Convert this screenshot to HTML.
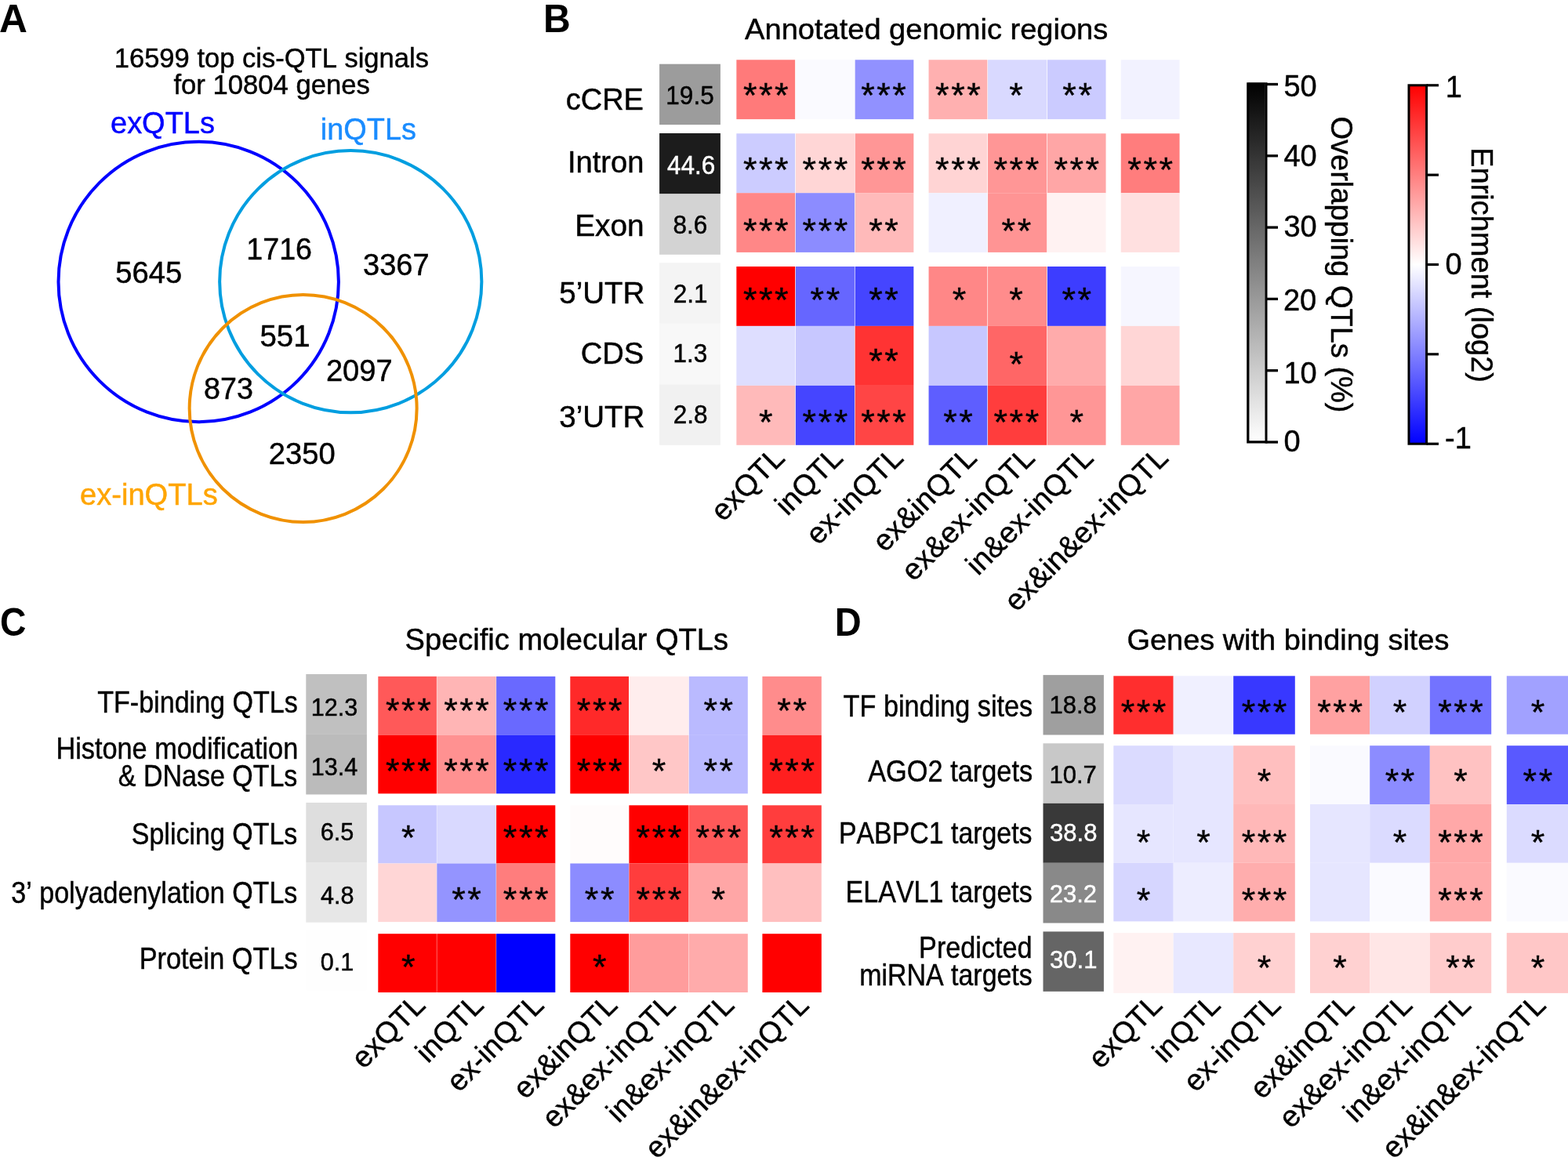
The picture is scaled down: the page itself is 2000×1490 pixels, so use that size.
<!DOCTYPE html>
<html><head><meta charset="utf-8"><title>QTL figure</title>
<style>html,body{margin:0;padding:0;background:#fff;overflow:hidden}svg{display:block}</style></head>
<body><svg width="2000" height="1490" viewBox="0 0 2000 1490" font-family="'Liberation Sans', Arial, sans-serif" style="font-kerning:none">
<rect width="2000" height="1490" fill="#fff"/>
<circle cx="253.2" cy="359.5" r="178.7" fill="none" stroke="#0000ff" stroke-width="4"/>
<circle cx="447.25" cy="359.2" r="167.1" fill="none" stroke="#009ee0" stroke-width="4"/>
<circle cx="386.65" cy="521" r="145" fill="none" stroke="#f09100" stroke-width="4"/>
<rect x="841.10" y="81.70" width="77.80" height="77.40" fill="rgb(156,156,156)"/>
<rect x="841.10" y="170.00" width="77.80" height="77.40" fill="rgb(28,28,28)"/>
<rect x="841.10" y="247.40" width="77.80" height="77.40" fill="rgb(211,211,211)"/>
<rect x="841.10" y="335.30" width="77.80" height="77.50" fill="rgb(244,244,244)"/>
<rect x="841.10" y="412.80" width="77.80" height="77.50" fill="rgb(248,248,248)"/>
<rect x="841.10" y="490.30" width="77.80" height="77.50" fill="rgb(241,241,241)"/>
<rect x="939.35" y="76.30" width="74.80" height="75.80" fill="rgb(255,122,122)"/>
<rect x="1014.85" y="76.30" width="75.10" height="75.80" fill="rgb(250,250,255)"/>
<rect x="1090.65" y="76.30" width="74.70" height="75.80" fill="rgb(145,145,255)"/>
<rect x="1184.55" y="76.30" width="74.80" height="75.80" fill="rgb(255,176,176)"/>
<rect x="1260.05" y="76.30" width="75.20" height="75.80" fill="rgb(217,217,255)"/>
<rect x="1335.95" y="76.30" width="74.60" height="75.80" fill="rgb(203,203,255)"/>
<rect x="1429.75" y="76.30" width="74.80" height="75.80" fill="rgb(242,242,255)"/>
<rect x="939.35" y="170.30" width="74.80" height="75.90" fill="rgb(204,204,255)"/>
<rect x="1014.85" y="170.30" width="75.10" height="75.90" fill="rgb(255,214,214)"/>
<rect x="1090.65" y="170.30" width="74.70" height="75.90" fill="rgb(255,150,150)"/>
<rect x="1184.55" y="170.30" width="74.80" height="75.90" fill="rgb(255,212,212)"/>
<rect x="1260.05" y="170.30" width="75.20" height="75.90" fill="rgb(255,150,150)"/>
<rect x="1335.95" y="170.30" width="74.60" height="75.90" fill="rgb(255,166,166)"/>
<rect x="1429.75" y="170.30" width="74.80" height="75.90" fill="rgb(255,125,125)"/>
<rect x="939.35" y="246.20" width="74.80" height="75.70" fill="rgb(255,135,135)"/>
<rect x="1014.85" y="246.20" width="75.10" height="75.70" fill="rgb(140,140,255)"/>
<rect x="1090.65" y="246.20" width="74.70" height="75.70" fill="rgb(255,186,186)"/>
<rect x="1184.55" y="246.20" width="74.80" height="75.70" fill="rgb(240,240,255)"/>
<rect x="1260.05" y="246.20" width="75.20" height="75.70" fill="rgb(255,148,148)"/>
<rect x="1335.95" y="246.20" width="74.60" height="75.70" fill="rgb(255,242,242)"/>
<rect x="1429.75" y="246.20" width="74.80" height="75.70" fill="rgb(255,224,224)"/>
<rect x="939.35" y="340.00" width="74.80" height="75.90" fill="rgb(255,0,0)"/>
<rect x="1014.85" y="340.00" width="75.10" height="75.90" fill="rgb(102,102,255)"/>
<rect x="1090.65" y="340.00" width="74.70" height="75.90" fill="rgb(69,69,255)"/>
<rect x="1184.55" y="340.00" width="74.80" height="75.90" fill="rgb(255,135,135)"/>
<rect x="1260.05" y="340.00" width="75.20" height="75.90" fill="rgb(255,140,140)"/>
<rect x="1335.95" y="340.00" width="74.60" height="75.90" fill="rgb(61,61,255)"/>
<rect x="1429.75" y="340.00" width="74.80" height="75.90" fill="rgb(246,246,255)"/>
<rect x="939.35" y="415.90" width="74.80" height="76.00" fill="rgb(222,222,255)"/>
<rect x="1014.85" y="415.90" width="75.10" height="76.00" fill="rgb(199,199,255)"/>
<rect x="1090.65" y="415.90" width="74.70" height="76.00" fill="rgb(255,51,51)"/>
<rect x="1184.55" y="415.90" width="74.80" height="76.00" fill="rgb(199,199,255)"/>
<rect x="1260.05" y="415.90" width="75.20" height="76.00" fill="rgb(255,102,102)"/>
<rect x="1335.95" y="415.90" width="74.60" height="76.00" fill="rgb(255,171,171)"/>
<rect x="1429.75" y="415.90" width="74.80" height="76.00" fill="rgb(255,214,214)"/>
<rect x="939.35" y="491.90" width="74.80" height="75.90" fill="rgb(255,186,186)"/>
<rect x="1014.85" y="491.90" width="75.10" height="75.90" fill="rgb(69,69,255)"/>
<rect x="1090.65" y="491.90" width="74.70" height="75.90" fill="rgb(255,69,69)"/>
<rect x="1184.55" y="491.90" width="74.80" height="75.90" fill="rgb(94,94,255)"/>
<rect x="1260.05" y="491.90" width="75.20" height="75.90" fill="rgb(255,61,61)"/>
<rect x="1335.95" y="491.90" width="74.60" height="75.90" fill="rgb(255,150,150)"/>
<rect x="1429.75" y="491.90" width="74.80" height="75.90" fill="rgb(255,166,166)"/>
<text x="947.89" y="136.86" font-size="45" stroke="#000" stroke-width="0.4" style="letter-spacing:2.6px">***</text>
<text x="1098.14" y="136.86" font-size="45" stroke="#000" stroke-width="0.4" style="letter-spacing:2.6px">***</text>
<text x="1193.09" y="136.86" font-size="45" stroke="#000" stroke-width="0.4" style="letter-spacing:2.6px">***</text>
<text x="1287.30" y="136.86" font-size="45" stroke="#000" stroke-width="0.4" style="letter-spacing:2.6px">*</text>
<text x="1355.35" y="136.86" font-size="45" stroke="#000" stroke-width="0.4" style="letter-spacing:2.6px">**</text>
<text x="947.89" y="232.06" font-size="45" stroke="#000" stroke-width="0.4" style="letter-spacing:2.6px">***</text>
<text x="1023.54" y="232.06" font-size="45" stroke="#000" stroke-width="0.4" style="letter-spacing:2.6px">***</text>
<text x="1098.14" y="232.06" font-size="45" stroke="#000" stroke-width="0.4" style="letter-spacing:2.6px">***</text>
<text x="1193.09" y="232.06" font-size="45" stroke="#000" stroke-width="0.4" style="letter-spacing:2.6px">***</text>
<text x="1267.49" y="232.06" font-size="45" stroke="#000" stroke-width="0.4" style="letter-spacing:2.6px">***</text>
<text x="1344.39" y="232.06" font-size="45" stroke="#000" stroke-width="0.4" style="letter-spacing:2.6px">***</text>
<text x="1438.29" y="232.06" font-size="45" stroke="#000" stroke-width="0.4" style="letter-spacing:2.6px">***</text>
<text x="947.89" y="310.06" font-size="45" stroke="#000" stroke-width="0.4" style="letter-spacing:2.6px">***</text>
<text x="1023.54" y="310.06" font-size="45" stroke="#000" stroke-width="0.4" style="letter-spacing:2.6px">***</text>
<text x="1108.19" y="310.06" font-size="45" stroke="#000" stroke-width="0.4" style="letter-spacing:2.6px">**</text>
<text x="1277.54" y="310.06" font-size="45" stroke="#000" stroke-width="0.4" style="letter-spacing:2.6px">**</text>
<text x="947.89" y="398.16" font-size="45" stroke="#000" stroke-width="0.4" style="letter-spacing:2.6px">***</text>
<text x="1033.60" y="398.16" font-size="45" stroke="#000" stroke-width="0.4" style="letter-spacing:2.6px">**</text>
<text x="1108.19" y="398.16" font-size="45" stroke="#000" stroke-width="0.4" style="letter-spacing:2.6px">**</text>
<text x="1214.70" y="398.16" font-size="45" stroke="#000" stroke-width="0.4" style="letter-spacing:2.6px">*</text>
<text x="1287.20" y="398.16" font-size="45" stroke="#000" stroke-width="0.4" style="letter-spacing:2.6px">*</text>
<text x="1354.44" y="398.16" font-size="45" stroke="#000" stroke-width="0.4" style="letter-spacing:2.6px">**</text>
<text x="1108.19" y="475.96" font-size="45" stroke="#000" stroke-width="0.4" style="letter-spacing:2.6px">**</text>
<text x="1287.50" y="480.16" font-size="45" stroke="#000" stroke-width="0.4" style="letter-spacing:2.6px">*</text>
<text x="968.00" y="554.06" font-size="45" stroke="#000" stroke-width="0.4" style="letter-spacing:2.6px">*</text>
<text x="1023.54" y="554.06" font-size="45" stroke="#000" stroke-width="0.4" style="letter-spacing:2.6px">***</text>
<text x="1098.14" y="554.06" font-size="45" stroke="#000" stroke-width="0.4" style="letter-spacing:2.6px">***</text>
<text x="1203.14" y="554.06" font-size="45" stroke="#000" stroke-width="0.4" style="letter-spacing:2.6px">**</text>
<text x="1267.49" y="554.06" font-size="45" stroke="#000" stroke-width="0.4" style="letter-spacing:2.6px">***</text>
<text x="1364.50" y="554.06" font-size="45" stroke="#000" stroke-width="0.4" style="letter-spacing:2.6px">*</text>
<rect x="390.30" y="860.00" width="77.60" height="76.90" fill="rgb(192,192,192)"/>
<rect x="390.30" y="936.90" width="77.60" height="76.60" fill="rgb(187,187,187)"/>
<rect x="390.30" y="1023.90" width="77.60" height="76.10" fill="rgb(222,222,222)"/>
<rect x="390.30" y="1100.00" width="77.60" height="76.70" fill="rgb(231,231,231)"/>
<rect x="390.30" y="1187.00" width="77.60" height="76.50" fill="rgb(254,254,254)"/>
<rect x="482.30" y="862.90" width="74.60" height="75.00" fill="rgb(255,89,89)"/>
<rect x="557.30" y="862.90" width="75.40" height="75.00" fill="rgb(255,181,181)"/>
<rect x="633.10" y="862.90" width="75.20" height="75.00" fill="rgb(105,105,255)"/>
<rect x="727.30" y="862.90" width="74.70" height="75.00" fill="rgb(255,41,41)"/>
<rect x="802.40" y="862.90" width="76.00" height="75.00" fill="rgb(255,237,237)"/>
<rect x="878.80" y="862.90" width="75.00" height="75.00" fill="rgb(186,186,255)"/>
<rect x="972.40" y="862.90" width="75.40" height="75.00" fill="rgb(255,140,140)"/>
<rect x="482.30" y="937.90" width="74.60" height="74.50" fill="rgb(255,0,0)"/>
<rect x="557.30" y="937.90" width="75.40" height="74.50" fill="rgb(255,145,145)"/>
<rect x="633.10" y="937.90" width="75.20" height="74.50" fill="rgb(41,41,255)"/>
<rect x="727.30" y="937.90" width="74.70" height="74.50" fill="rgb(255,0,0)"/>
<rect x="802.40" y="937.90" width="76.00" height="74.50" fill="rgb(255,199,199)"/>
<rect x="878.80" y="937.90" width="75.00" height="74.50" fill="rgb(186,186,255)"/>
<rect x="972.40" y="937.90" width="75.40" height="74.50" fill="rgb(255,31,31)"/>
<rect x="482.30" y="1027.30" width="74.60" height="74.20" fill="rgb(199,199,255)"/>
<rect x="557.30" y="1027.30" width="75.40" height="74.20" fill="rgb(217,217,255)"/>
<rect x="633.10" y="1027.30" width="75.20" height="74.20" fill="rgb(255,0,0)"/>
<rect x="727.30" y="1027.30" width="74.70" height="74.20" fill="rgb(255,252,252)"/>
<rect x="802.40" y="1027.30" width="76.00" height="74.20" fill="rgb(255,0,0)"/>
<rect x="878.80" y="1027.30" width="75.00" height="74.20" fill="rgb(255,89,89)"/>
<rect x="972.40" y="1027.30" width="75.40" height="74.20" fill="rgb(255,61,61)"/>
<rect x="482.30" y="1101.50" width="74.60" height="74.60" fill="rgb(255,214,214)"/>
<rect x="557.30" y="1101.50" width="75.40" height="74.60" fill="rgb(148,148,255)"/>
<rect x="633.10" y="1101.50" width="75.20" height="74.60" fill="rgb(255,125,125)"/>
<rect x="727.30" y="1101.50" width="74.70" height="74.60" fill="rgb(140,140,255)"/>
<rect x="802.40" y="1101.50" width="76.00" height="74.60" fill="rgb(255,61,61)"/>
<rect x="878.80" y="1101.50" width="75.00" height="74.60" fill="rgb(255,166,166)"/>
<rect x="972.40" y="1101.50" width="75.40" height="74.60" fill="rgb(255,191,191)"/>
<rect x="482.30" y="1191.20" width="74.60" height="74.80" fill="rgb(255,0,0)"/>
<rect x="557.30" y="1191.20" width="75.40" height="74.80" fill="rgb(255,0,0)"/>
<rect x="633.10" y="1191.20" width="75.20" height="74.80" fill="rgb(0,0,255)"/>
<rect x="727.30" y="1191.20" width="74.70" height="74.80" fill="rgb(255,0,0)"/>
<rect x="802.40" y="1191.20" width="76.00" height="74.80" fill="rgb(255,156,156)"/>
<rect x="878.80" y="1191.20" width="75.00" height="74.80" fill="rgb(255,171,171)"/>
<rect x="972.40" y="1191.20" width="75.40" height="74.80" fill="rgb(255,0,0)"/>
<text x="491.94" y="921.96" font-size="45" stroke="#000" stroke-width="0.4" style="letter-spacing:2.6px">***</text>
<text x="566.14" y="921.96" font-size="45" stroke="#000" stroke-width="0.4" style="letter-spacing:2.6px">***</text>
<text x="641.84" y="921.96" font-size="45" stroke="#000" stroke-width="0.4" style="letter-spacing:2.6px">***</text>
<text x="735.79" y="921.96" font-size="45" stroke="#000" stroke-width="0.4" style="letter-spacing:2.6px">***</text>
<text x="897.50" y="921.96" font-size="45" stroke="#000" stroke-width="0.4" style="letter-spacing:2.6px">**</text>
<text x="991.30" y="921.96" font-size="45" stroke="#000" stroke-width="0.4" style="letter-spacing:2.6px">**</text>
<text x="491.94" y="999.06" font-size="45" stroke="#000" stroke-width="0.4" style="letter-spacing:2.6px">***</text>
<text x="566.14" y="999.06" font-size="45" stroke="#000" stroke-width="0.4" style="letter-spacing:2.6px">***</text>
<text x="641.84" y="999.06" font-size="45" stroke="#000" stroke-width="0.4" style="letter-spacing:2.6px">***</text>
<text x="735.79" y="999.06" font-size="45" stroke="#000" stroke-width="0.4" style="letter-spacing:2.6px">***</text>
<text x="831.65" y="999.06" font-size="45" stroke="#000" stroke-width="0.4" style="letter-spacing:2.6px">*</text>
<text x="897.50" y="999.06" font-size="45" stroke="#000" stroke-width="0.4" style="letter-spacing:2.6px">**</text>
<text x="981.24" y="999.06" font-size="45" stroke="#000" stroke-width="0.4" style="letter-spacing:2.6px">***</text>
<text x="512.05" y="1083.96" font-size="45" stroke="#000" stroke-width="0.4" style="letter-spacing:2.6px">*</text>
<text x="641.84" y="1083.96" font-size="45" stroke="#000" stroke-width="0.4" style="letter-spacing:2.6px">***</text>
<text x="811.54" y="1083.96" font-size="45" stroke="#000" stroke-width="0.4" style="letter-spacing:2.6px">***</text>
<text x="887.44" y="1083.96" font-size="45" stroke="#000" stroke-width="0.4" style="letter-spacing:2.6px">***</text>
<text x="981.24" y="1083.96" font-size="45" stroke="#000" stroke-width="0.4" style="letter-spacing:2.6px">***</text>
<text x="576.20" y="1163.06" font-size="45" stroke="#000" stroke-width="0.4" style="letter-spacing:2.6px">**</text>
<text x="641.84" y="1163.06" font-size="45" stroke="#000" stroke-width="0.4" style="letter-spacing:2.6px">***</text>
<text x="745.85" y="1163.06" font-size="45" stroke="#000" stroke-width="0.4" style="letter-spacing:2.6px">**</text>
<text x="811.54" y="1163.06" font-size="45" stroke="#000" stroke-width="0.4" style="letter-spacing:2.6px">***</text>
<text x="907.55" y="1163.06" font-size="45" stroke="#000" stroke-width="0.4" style="letter-spacing:2.6px">*</text>
<text x="512.05" y="1248.96" font-size="45" stroke="#000" stroke-width="0.4" style="letter-spacing:2.6px">*</text>
<text x="755.90" y="1248.96" font-size="45" stroke="#000" stroke-width="0.4" style="letter-spacing:2.6px">*</text>
<rect x="1330.50" y="861.10" width="77.40" height="76.40" fill="rgb(159,159,159)"/>
<rect x="1330.50" y="948.30" width="77.40" height="76.50" fill="rgb(200,200,200)"/>
<rect x="1330.50" y="1024.80" width="77.40" height="76.00" fill="rgb(57,57,57)"/>
<rect x="1330.50" y="1100.80" width="77.40" height="76.70" fill="rgb(137,137,137)"/>
<rect x="1330.50" y="1188.40" width="77.40" height="76.40" fill="rgb(101,101,101)"/>
<rect x="1420.30" y="862.30" width="76.40" height="74.40" fill="rgb(255,46,46)"/>
<rect x="1496.70" y="862.30" width="76.50" height="74.40" fill="rgb(240,240,255)"/>
<rect x="1573.20" y="862.30" width="78.60" height="74.40" fill="rgb(56,56,255)"/>
<rect x="1671.00" y="862.30" width="76.20" height="74.40" fill="rgb(255,161,161)"/>
<rect x="1747.20" y="862.30" width="76.60" height="74.40" fill="rgb(209,209,255)"/>
<rect x="1823.80" y="862.30" width="78.40" height="74.40" fill="rgb(115,115,255)"/>
<rect x="1921.80" y="862.30" width="79.20" height="74.40" fill="rgb(161,161,255)"/>
<rect x="1420.30" y="951.20" width="76.40" height="74.80" fill="rgb(219,219,255)"/>
<rect x="1496.70" y="951.20" width="76.50" height="74.80" fill="rgb(230,230,255)"/>
<rect x="1573.20" y="951.20" width="78.60" height="74.80" fill="rgb(255,191,191)"/>
<rect x="1671.00" y="951.20" width="76.20" height="74.80" fill="rgb(250,250,255)"/>
<rect x="1747.20" y="951.20" width="76.60" height="74.80" fill="rgb(140,140,255)"/>
<rect x="1823.80" y="951.20" width="78.40" height="74.80" fill="rgb(255,194,194)"/>
<rect x="1921.80" y="951.20" width="79.20" height="74.80" fill="rgb(89,89,255)"/>
<rect x="1420.30" y="1026.00" width="76.40" height="74.80" fill="rgb(230,230,255)"/>
<rect x="1496.70" y="1026.00" width="76.50" height="74.80" fill="rgb(230,230,255)"/>
<rect x="1573.20" y="1026.00" width="78.60" height="74.80" fill="rgb(255,184,184)"/>
<rect x="1671.00" y="1026.00" width="76.20" height="74.80" fill="rgb(230,230,255)"/>
<rect x="1747.20" y="1026.00" width="76.60" height="74.80" fill="rgb(219,219,255)"/>
<rect x="1823.80" y="1026.00" width="78.40" height="74.80" fill="rgb(255,168,168)"/>
<rect x="1921.80" y="1026.00" width="79.20" height="74.80" fill="rgb(219,219,255)"/>
<rect x="1420.30" y="1100.80" width="76.40" height="74.60" fill="rgb(214,214,255)"/>
<rect x="1496.70" y="1100.80" width="76.50" height="74.60" fill="rgb(237,237,255)"/>
<rect x="1573.20" y="1100.80" width="78.60" height="74.60" fill="rgb(255,173,173)"/>
<rect x="1671.00" y="1100.80" width="76.20" height="74.60" fill="rgb(230,230,255)"/>
<rect x="1747.20" y="1100.80" width="76.60" height="74.60" fill="rgb(250,250,255)"/>
<rect x="1823.80" y="1100.80" width="78.40" height="74.60" fill="rgb(255,171,171)"/>
<rect x="1921.80" y="1100.80" width="79.20" height="74.60" fill="rgb(250,250,255)"/>
<rect x="1420.30" y="1190.10" width="76.40" height="76.80" fill="rgb(255,242,242)"/>
<rect x="1496.70" y="1190.10" width="76.50" height="76.80" fill="rgb(232,232,255)"/>
<rect x="1573.20" y="1190.10" width="78.60" height="76.80" fill="rgb(255,209,209)"/>
<rect x="1671.00" y="1190.10" width="76.20" height="76.80" fill="rgb(255,209,209)"/>
<rect x="1747.20" y="1190.10" width="76.60" height="76.80" fill="rgb(255,230,230)"/>
<rect x="1823.80" y="1190.10" width="78.40" height="76.80" fill="rgb(255,204,204)"/>
<rect x="1921.80" y="1190.10" width="79.20" height="76.80" fill="rgb(255,199,199)"/>
<text x="1429.64" y="924.06" font-size="45" stroke="#000" stroke-width="0.4" style="letter-spacing:2.6px">***</text>
<text x="1583.64" y="924.06" font-size="45" stroke="#000" stroke-width="0.4" style="letter-spacing:2.6px">***</text>
<text x="1680.24" y="924.06" font-size="45" stroke="#000" stroke-width="0.4" style="letter-spacing:2.6px">***</text>
<text x="1776.75" y="924.06" font-size="45" stroke="#000" stroke-width="0.4" style="letter-spacing:2.6px">*</text>
<text x="1834.14" y="924.06" font-size="45" stroke="#000" stroke-width="0.4" style="letter-spacing:2.6px">***</text>
<text x="1952.65" y="924.06" font-size="45" stroke="#000" stroke-width="0.4" style="letter-spacing:2.6px">*</text>
<text x="1603.75" y="1011.86" font-size="45" stroke="#000" stroke-width="0.4" style="letter-spacing:2.6px">*</text>
<text x="1766.69" y="1011.86" font-size="45" stroke="#000" stroke-width="0.4" style="letter-spacing:2.6px">**</text>
<text x="1854.25" y="1011.86" font-size="45" stroke="#000" stroke-width="0.4" style="letter-spacing:2.6px">*</text>
<text x="1942.60" y="1011.86" font-size="45" stroke="#000" stroke-width="0.4" style="letter-spacing:2.6px">**</text>
<text x="1449.75" y="1089.56" font-size="45" stroke="#000" stroke-width="0.4" style="letter-spacing:2.6px">*</text>
<text x="1526.20" y="1089.56" font-size="45" stroke="#000" stroke-width="0.4" style="letter-spacing:2.6px">*</text>
<text x="1583.64" y="1089.56" font-size="45" stroke="#000" stroke-width="0.4" style="letter-spacing:2.6px">***</text>
<text x="1776.75" y="1089.56" font-size="45" stroke="#000" stroke-width="0.4" style="letter-spacing:2.6px">*</text>
<text x="1834.14" y="1089.56" font-size="45" stroke="#000" stroke-width="0.4" style="letter-spacing:2.6px">***</text>
<text x="1952.65" y="1089.56" font-size="45" stroke="#000" stroke-width="0.4" style="letter-spacing:2.6px">*</text>
<text x="1449.75" y="1164.26" font-size="45" stroke="#000" stroke-width="0.4" style="letter-spacing:2.6px">*</text>
<text x="1583.64" y="1164.26" font-size="45" stroke="#000" stroke-width="0.4" style="letter-spacing:2.6px">***</text>
<text x="1834.14" y="1164.26" font-size="45" stroke="#000" stroke-width="0.4" style="letter-spacing:2.6px">***</text>
<text x="1603.75" y="1249.96" font-size="45" stroke="#000" stroke-width="0.4" style="letter-spacing:2.6px">*</text>
<text x="1700.35" y="1249.96" font-size="45" stroke="#000" stroke-width="0.4" style="letter-spacing:2.6px">*</text>
<text x="1844.19" y="1249.96" font-size="45" stroke="#000" stroke-width="0.4" style="letter-spacing:2.6px">**</text>
<text x="1952.65" y="1249.96" font-size="45" stroke="#000" stroke-width="0.4" style="letter-spacing:2.6px">*</text>
<defs><linearGradient id="gg" x1="0" y1="0" x2="0" y2="1"><stop offset="0" stop-color="#000"/><stop offset="1" stop-color="#fff"/></linearGradient><linearGradient id="ge" x1="0" y1="0" x2="0" y2="1"><stop offset="0" stop-color="#f00"/><stop offset="0.5" stop-color="#fff"/><stop offset="1" stop-color="#00f"/></linearGradient></defs>
<rect x="1592.6" y="105.2" width="21.2" height="458.8" fill="url(#gg)"/>
<path d="M1591.8 105.2 V563.8 H1615" fill="none" stroke="#000" stroke-width="3.2"/>
<path d="M1615 105.2 V565.6" fill="none" stroke="#000" stroke-width="3"/>
<path d="M1615 564.00 H1630" stroke="#000" stroke-width="3.3"/>
<path d="M1615 472.70 H1630" stroke="#000" stroke-width="3.3"/>
<path d="M1615 381.40 H1630" stroke="#000" stroke-width="3.3"/>
<path d="M1615 290.10 H1630" stroke="#000" stroke-width="3.3"/>
<path d="M1615 198.80 H1630" stroke="#000" stroke-width="3.3"/>
<path d="M1615 107.50 H1630" stroke="#000" stroke-width="3.3"/>
<rect x="1797" y="108.8" width="22.6" height="457.4" fill="url(#ge)"/>
<rect x="1797" y="108.8" width="22.6" height="457.4" fill="none" stroke="#000" stroke-width="3"/>
<path d="M1819.6 108.80 H1835" stroke="#000" stroke-width="3.2"/>
<path d="M1819.6 223.15 H1835" stroke="#000" stroke-width="3.2"/>
<path d="M1819.6 337.50 H1835" stroke="#000" stroke-width="3.2"/>
<path d="M1819.6 451.85 H1835" stroke="#000" stroke-width="3.2"/>
<path d="M1819.6 566.20 H1835" stroke="#000" stroke-width="3.2"/>
<text transform="translate(-1.04 41.30) scale(1.0364 1.0400)" font-size="48" font-weight="bold" fill="#000" stroke="#000" stroke-width="0">A</text>
<text transform="translate(145.76 86.10) scale(0.9981 1.0152)" font-size="34.6" fill="#000" stroke="#000" stroke-width="0.45">16599 top cis-QTL signals</text>
<text transform="translate(221.40 119.90) scale(1.0016 1.0154)" font-size="34.6" fill="#000" stroke="#000" stroke-width="0.45">for 10804 genes</text>
<text transform="translate(141.01 170.10) scale(0.9865 1.0200)" font-size="38.5" fill="#0000ff" stroke="#0000ff" stroke-width="0.45">exQTLs</text>
<text transform="translate(408.73 178.40) scale(0.9851 1.0200)" font-size="38.5" fill="#1a8cff" stroke="#1a8cff" stroke-width="0.45">inQTLs</text>
<text transform="translate(102.01 644.00) scale(0.9898 1.0150)" font-size="38.5" fill="#ffa500" stroke="#ffa500" stroke-width="0.45">ex-inQTLs</text>
<text transform="translate(147.29 361.00) scale(1.0110 1.0400)" font-size="37.8" fill="#000" stroke="#000" stroke-width="0.45">5645</text>
<text transform="translate(314.26 331.00) scale(0.9969 1.0400)" font-size="37.8" fill="#000" stroke="#000" stroke-width="0.45">1716</text>
<text transform="translate(462.99 350.50) scale(1.0061 1.0400)" font-size="37.8" fill="#000" stroke="#000" stroke-width="0.45">3367</text>
<text transform="translate(331.48 441.70) scale(1.0175 1.0400)" font-size="37.8" fill="#000" stroke="#000" stroke-width="0.45">551</text>
<text transform="translate(415.89 486.30) scale(1.0085 1.0400)" font-size="37.8" fill="#000" stroke="#000" stroke-width="0.45">2097</text>
<text transform="translate(260.10 508.80) scale(0.9967 1.0400)" font-size="37.8" fill="#000" stroke="#000" stroke-width="0.45">873</text>
<text transform="translate(342.79 592.20) scale(1.0098 1.0400)" font-size="37.8" fill="#000" stroke="#000" stroke-width="0.45">2350</text>
<text transform="translate(692.89 41.10) scale(1.0033 1.0400)" font-size="48" font-weight="bold" fill="#000" stroke="#000" stroke-width="0">B</text>
<text transform="translate(950.10 49.60) scale(1.0147 1.0017)" font-size="37.5" fill="#000" stroke="#000" stroke-width="0.45">Annotated genomic regions</text>
<text transform="translate(721.70 140.10) scale(1.0000 1.0300)" font-size="38" fill="#000" stroke="#000" stroke-width="0.45">cCRE</text>
<text transform="translate(723.89 219.80) scale(1.0033 1.0067)" font-size="38" fill="#000" stroke="#000" stroke-width="0.45">Intron</text>
<text transform="translate(733.13 300.50) scale(1.0220 1.0100)" font-size="38" fill="#000" stroke="#000" stroke-width="0.45">Exon</text>
<text transform="translate(713.29 386.50) scale(1.0133 1.0400)" font-size="38" fill="#000" stroke="#000" stroke-width="0.45">5’UTR</text>
<text transform="translate(740.69 463.80) scale(1.0039 1.0400)" font-size="38" fill="#000" stroke="#000" stroke-width="0.45">CDS</text>
<text transform="translate(713.29 544.90) scale(1.0133 1.0400)" font-size="38" fill="#000" stroke="#000" stroke-width="0.45">3’UTR</text>
<text transform="translate(849.36 133.40) scale(1.0000 1.0400)" font-size="31.5" fill="#000" stroke="#000" stroke-width="0.45">19.5</text>
<text transform="translate(851.00 222.30) scale(1.0000 1.0400)" font-size="31.5" fill="#fff" stroke="#fff" stroke-width="0.45">44.6</text>
<text transform="translate(858.50 298.40) scale(1.0000 1.0400)" font-size="31.5" fill="#000" stroke="#000" stroke-width="0.45">8.6</text>
<text transform="translate(858.80 386.30) scale(1.0000 1.0400)" font-size="31.5" fill="#000" stroke="#000" stroke-width="0.45">2.1</text>
<text transform="translate(858.46 462.00) scale(1.0000 1.0400)" font-size="31.5" fill="#000" stroke="#000" stroke-width="0.45">1.3</text>
<text transform="translate(858.80 540.30) scale(1.0000 1.0400)" font-size="31.5" fill="#000" stroke="#000" stroke-width="0.45">2.8</text>
<text transform="translate(-0.03 811.40) scale(0.9641 1.0400)" font-size="48" font-weight="bold" fill="#000" stroke="#000" stroke-width="0">C</text>
<text transform="translate(516.59 828.90) scale(1.0096 1.0076)" font-size="37.7" fill="#000" stroke="#000" stroke-width="0.45">Specific molecular QTLs</text>
<text transform="translate(124.20 909.10) scale(0.8968 1.0154)" font-size="38" fill="#000" stroke="#000" stroke-width="0.45">TF-binding QTLs</text>
<text transform="translate(71.39 967.60) scale(0.9027 1.0021)" font-size="38" fill="#000" stroke="#000" stroke-width="0.45">Histone modification</text>
<text transform="translate(150.81 1003.30) scale(0.8945 1.0222)" font-size="38" fill="#000" stroke="#000" stroke-width="0.45">&amp; DNase QTLs</text>
<text transform="translate(167.81 1076.80) scale(0.8945 1.0133)" font-size="38" fill="#000" stroke="#000" stroke-width="0.45">Splicing QTLs</text>
<text transform="translate(14.30 1151.90) scale(0.8958 1.0080)" font-size="38" fill="#000" stroke="#000" stroke-width="0.45">3’ polyadenylation QTLs</text>
<text transform="translate(177.69 1235.70) scale(0.9023 1.0145)" font-size="38" fill="#000" stroke="#000" stroke-width="0.45">Protein QTLs</text>
<text transform="translate(396.74 912.50) scale(1.0000 1.0400)" font-size="30.6" fill="#000" stroke="#000" stroke-width="0.45">12.3</text>
<text transform="translate(396.74 988.75) scale(1.0000 1.0400)" font-size="30.6" fill="#000" stroke="#000" stroke-width="0.45">13.4</text>
<text transform="translate(408.70 1072.40) scale(1.0000 1.0400)" font-size="30.6" fill="#000" stroke="#000" stroke-width="0.45">6.5</text>
<text transform="translate(409.10 1152.60) scale(1.0000 1.0400)" font-size="30.6" fill="#000" stroke="#000" stroke-width="0.45">4.8</text>
<text transform="translate(408.70 1237.80) scale(1.0000 1.0400)" font-size="30.6" fill="#000" stroke="#000" stroke-width="0.45">0.1</text>
<text transform="translate(1064.66 811.00) scale(0.9800 1.0400)" font-size="48" font-weight="bold" fill="#000" stroke="#000" stroke-width="0">D</text>
<text transform="translate(1437.49 828.80) scale(1.0111 1.0019)" font-size="37.5" fill="#000" stroke="#000" stroke-width="0.45">Genes with binding sites</text>
<text transform="translate(1075.60 914.00) scale(0.9011 1.0057)" font-size="38" fill="#000" stroke="#000" stroke-width="0.45">TF binding sites</text>
<text transform="translate(1107.20 996.90) scale(0.9039 1.0145)" font-size="38" fill="#000" stroke="#000" stroke-width="0.45">AGO2 targets</text>
<text transform="translate(1069.93 1075.90) scale(0.8916 1.0185)" font-size="38" fill="#000" stroke="#000" stroke-width="0.45">PABPC1 targets</text>
<text transform="translate(1078.61 1151.00) scale(0.8950 1.0185)" font-size="38" fill="#000" stroke="#000" stroke-width="0.45">ELAVL1 targets</text>
<text transform="translate(1172.10 1221.50) scale(0.9000 1.0044)" font-size="38" fill="#000" stroke="#000" stroke-width="0.45">Predicted</text>
<text transform="translate(1096.32 1256.90) scale(0.8922 1.0100)" font-size="38" fill="#000" stroke="#000" stroke-width="0.45">miRNA targets</text>
<text transform="translate(1338.48 910.10) scale(1.0000 1.0400)" font-size="31" fill="#000" stroke="#000" stroke-width="0.45">18.8</text>
<text transform="translate(1338.48 999.00) scale(1.0000 1.0400)" font-size="31" fill="#000" stroke="#000" stroke-width="0.45">10.7</text>
<text transform="translate(1339.10 1072.80) scale(1.0000 1.0400)" font-size="31" fill="#fff" stroke="#fff" stroke-width="0.45">38.8</text>
<text transform="translate(1338.70 1151.00) scale(1.0000 1.0400)" font-size="31" fill="#fff" stroke="#fff" stroke-width="0.45">23.2</text>
<text transform="translate(1339.10 1235.10) scale(1.0000 1.0400)" font-size="31" fill="#fff" stroke="#fff" stroke-width="0.45">30.1</text>
<text transform="translate(1637.50 122.90) scale(1.0000 1.0400)" font-size="38" fill="#000" stroke="#000" stroke-width="0.45">50</text>
<text transform="translate(1637.50 211.60) scale(1.0000 1.0400)" font-size="38" fill="#000" stroke="#000" stroke-width="0.45">40</text>
<text transform="translate(1637.50 302.10) scale(1.0000 1.0400)" font-size="38" fill="#000" stroke="#000" stroke-width="0.45">30</text>
<text transform="translate(1637.00 396.00) scale(1.0000 1.0400)" font-size="38" fill="#000" stroke="#000" stroke-width="0.45">20</text>
<text transform="translate(1637.45 489.10) scale(1.0000 1.0400)" font-size="38" fill="#000" stroke="#000" stroke-width="0.45">10</text>
<text transform="translate(1637.50 576.00) scale(1.0000 1.0400)" font-size="38" fill="#000" stroke="#000" stroke-width="0.45">0</text>
<text transform="translate(1843.65 124.10) scale(1.0000 1.0400)" font-size="38" fill="#000" stroke="#000" stroke-width="0.45">1</text>
<text transform="translate(1843.40 350.00) scale(1.0000 1.0400)" font-size="38" fill="#000" stroke="#000" stroke-width="0.45">0</text>
<text transform="translate(1843.10 571.90) scale(1.0000 1.0400)" font-size="38" fill="#000" stroke="#000" stroke-width="0.45">-1</text>
<text transform="translate(1698.2 337.5) rotate(90)" font-size="38" text-anchor="middle" stroke="#000" stroke-width="0.45">Overlapping QTLs (%)</text>
<text transform="translate(1877.2 338) rotate(90)" font-size="38" text-anchor="middle" stroke="#000" stroke-width="0.45">Enrichment (log2)</text>
<text transform="translate(1002.90 586.20) rotate(-45)" font-size="38" text-anchor="end" stroke="#000" stroke-width="0.45">exQTL</text>
<text transform="translate(1077.30 586.20) rotate(-45)" font-size="38" text-anchor="end" stroke="#000" stroke-width="0.45">inQTL</text>
<text transform="translate(1154.10 586.20) rotate(-45)" font-size="38" text-anchor="end" stroke="#000" stroke-width="0.45">ex-inQTL</text>
<text transform="translate(1247.90 586.20) rotate(-45)" font-size="38" text-anchor="end" stroke="#000" stroke-width="0.45">ex&amp;inQTL</text>
<text transform="translate(1322.00 586.20) rotate(-45)" font-size="38" text-anchor="end" stroke="#000" stroke-width="0.45">ex&amp;ex-inQTL</text>
<text transform="translate(1396.80 586.20) rotate(-45)" font-size="38" text-anchor="end" stroke="#000" stroke-width="0.45">in&amp;ex-inQTL</text>
<text transform="translate(1492.10 586.20) rotate(-45)" font-size="38" text-anchor="end" stroke="#000" stroke-width="0.45">ex&amp;in&amp;ex-inQTL</text>
<text transform="translate(544.50 1284.30) rotate(-45)" font-size="38" text-anchor="end" stroke="#000" stroke-width="0.45">exQTL</text>
<text transform="translate(618.90 1284.30) rotate(-45)" font-size="38" text-anchor="end" stroke="#000" stroke-width="0.45">inQTL</text>
<text transform="translate(695.70 1284.30) rotate(-45)" font-size="38" text-anchor="end" stroke="#000" stroke-width="0.45">ex-inQTL</text>
<text transform="translate(789.50 1284.30) rotate(-45)" font-size="38" text-anchor="end" stroke="#000" stroke-width="0.45">ex&amp;inQTL</text>
<text transform="translate(863.60 1284.30) rotate(-45)" font-size="38" text-anchor="end" stroke="#000" stroke-width="0.45">ex&amp;ex-inQTL</text>
<text transform="translate(938.40 1284.30) rotate(-45)" font-size="38" text-anchor="end" stroke="#000" stroke-width="0.45">in&amp;ex-inQTL</text>
<text transform="translate(1033.70 1284.30) rotate(-45)" font-size="38" text-anchor="end" stroke="#000" stroke-width="0.45">ex&amp;in&amp;ex-inQTL</text>
<text transform="translate(1484.40 1284.30) rotate(-45)" font-size="38" text-anchor="end" stroke="#000" stroke-width="0.45">exQTL</text>
<text transform="translate(1558.80 1284.30) rotate(-45)" font-size="38" text-anchor="end" stroke="#000" stroke-width="0.45">inQTL</text>
<text transform="translate(1635.60 1284.30) rotate(-45)" font-size="38" text-anchor="end" stroke="#000" stroke-width="0.45">ex-inQTL</text>
<text transform="translate(1729.40 1284.30) rotate(-45)" font-size="38" text-anchor="end" stroke="#000" stroke-width="0.45">ex&amp;inQTL</text>
<text transform="translate(1803.50 1284.30) rotate(-45)" font-size="38" text-anchor="end" stroke="#000" stroke-width="0.45">ex&amp;ex-inQTL</text>
<text transform="translate(1878.30 1284.30) rotate(-45)" font-size="38" text-anchor="end" stroke="#000" stroke-width="0.45">in&amp;ex-inQTL</text>
<text transform="translate(1973.60 1284.30) rotate(-45)" font-size="38" text-anchor="end" stroke="#000" stroke-width="0.45">ex&amp;in&amp;ex-inQTL</text>
</svg></body></html>
